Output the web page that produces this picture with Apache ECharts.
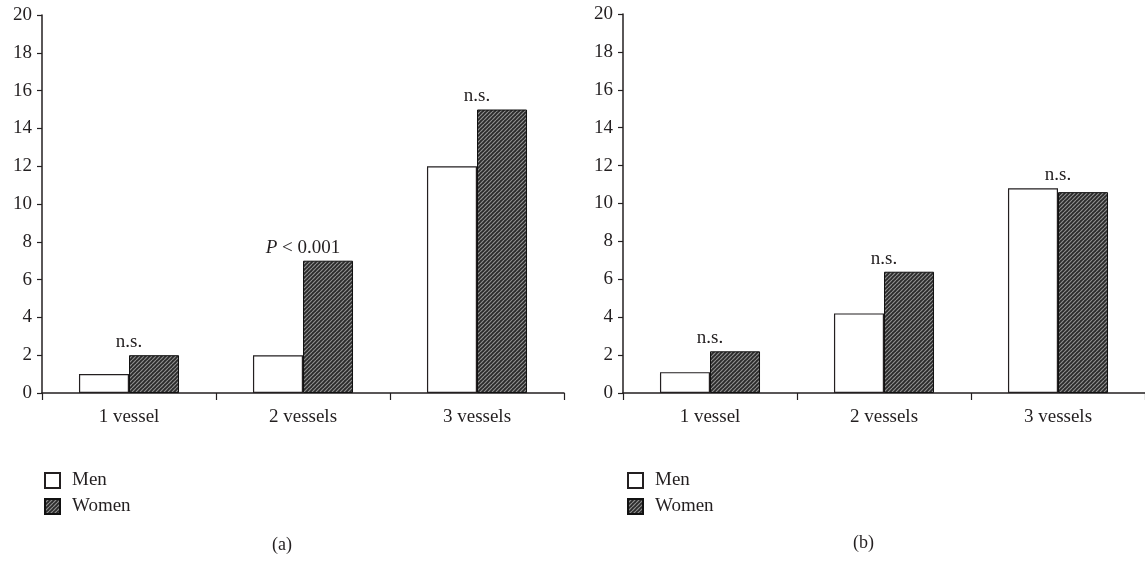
<!DOCTYPE html>
<html>
<head>
<meta charset="utf-8">
<script src="https://cdn.jsdelivr.net/npm/echarts@6/dist/echarts.min.js"></script>
<style>
html,body{margin:0;padding:0;background:#fff;}
#c{width:1145px;height:562px;}
</style>
</head>
<body>
<div id="c"></div>
<script>
// ---- data ----
const categories = ['1 vessel', '2 vessels', '3 vessels'];
const yTicks = [0, 2, 4, 6, 8, 10, 12, 14, 16, 18, 20];
const menA = [1, 2, 12];
const womenA = [2, 7, 15];
const menB = [1.1, 4.2, 10.8];
const womenB = [2.2, 6.4, 10.6];
const notesA = ['n.s.', '{i|P} < 0.001', 'n.s.'];
const notesB = ['n.s.', 'n.s.', 'n.s.'];
const seriesNames = ['Men', 'Women'];
const captions = ['(a)', '(b)'];

const FONT = '"Liberation Serif", "DejaVu Serif", serif';
const INK = '#231f20';
const FS = 19;

function makePattern() {
  const s = 4;
  const cv = document.createElement('canvas');
  cv.width = s; cv.height = s;
  const g = cv.getContext('2d');
  g.fillStyle = '#2a2a2a';
  g.fillRect(0, 0, s, s);
  g.strokeStyle = '#8f8f8f';
  g.lineWidth = 1.2;
  for (const k of [-s, 0, s]) {
    g.beginPath();
    g.moveTo(k, s);
    g.lineTo(k + s, 0);
    g.stroke();
  }
  return { image: cv, repeat: 'repeat' };
}
const hatch = makePattern();

const grids = [
  { left: 42, top: 15, width: 522, height: 378 },
  { left: 623, top: 14, width: 522, height: 379 }
];

function xAx(i) {
  return {
    type: 'category', gridIndex: i, data: categories,
    axisLine: { lineStyle: { color: INK, width: 1.5 } },
    axisTick: { show: true, length: 7, lineStyle: { color: INK, width: 1.2 } },
    axisLabel: { color: INK, fontFamily: FONT, fontSize: FS, margin: 15 }
  };
}
function yAx(i) {
  return {
    type: 'value', gridIndex: i, min: yTicks[0], max: yTicks[yTicks.length - 1],
    interval: yTicks[1] - yTicks[0],
    axisLine: { show: true, lineStyle: { color: INK, width: 1.5 } },
    axisTick: { show: true, length: 5, lineStyle: { color: INK, width: 1.2 } },
    axisLabel: { color: INK, fontFamily: FONT, fontSize: FS, margin: 10 },
    splitLine: { show: false }
  };
}

function barSeries(name, data, idx, isWomen) {
  return {
    name: name, type: 'bar', xAxisIndex: idx, yAxisIndex: idx, data: data,
    barGap: '0%', barCategoryGap: '42.5%',
    itemStyle: isWomen
      ? { color: hatch, borderColor: '#111', borderWidth: 1 }
      : { color: '#ffffff', borderColor: INK, borderWidth: 1.2 },
    silent: true, animation: false
  };
}
function noteSeries(men, women, notes, idx) {
  return {
    type: 'scatter', xAxisIndex: idx, yAxisIndex: idx, symbolSize: 1,
    itemStyle: { color: 'rgba(0,0,0,0)' },
    data: men.map((m, k) => Math.max(m, women[k])),
    label: {
      show: true, position: 'top', distance: 3,
      formatter: p => notes[p.dataIndex],
      color: INK, opacity: 1, fontFamily: FONT, fontSize: FS, textBorderWidth: 0,
      rich: { i: { fontStyle: 'italic', fontFamily: FONT, fontSize: FS, color: INK } }
    },
    labelLayout: { hideOverlap: false },
    silent: true, animation: false
  };
}

function legendAt(left) {
  return {
    data: seriesNames, orient: 'vertical', left: left, top: 471, padding: 0,
    itemWidth: 15, itemHeight: 15, itemGap: 7,
    icon: 'rect',
    textStyle: { color: INK, fontFamily: FONT, fontSize: FS, padding: [0, 0, 0, 7] }, selectedMode: false
  };
}

const chart = echarts.init(document.getElementById('c'));
chart.setOption({
  backgroundColor: '#fff',
  animation: false,
  grid: grids,
  xAxis: [xAx(0), xAx(1)],
  yAxis: [yAx(0), yAx(1)],
  legend: [legendAt(44), legendAt(627)],
  graphic: [
    { type: 'text', left: 272, top: 536, style: { text: captions[0], fill: INK, font: '18px ' + FONT } },
    { type: 'text', left: 853, top: 534, style: { text: captions[1], fill: INK, font: '18px ' + FONT } }
  ],
  series: [
    barSeries(seriesNames[0], menA, 0, false),
    barSeries(seriesNames[1], womenA, 0, true),
    noteSeries(menA, womenA, notesA, 0),
    barSeries(seriesNames[0], menB, 1, false),
    barSeries(seriesNames[1], womenB, 1, true),
    noteSeries(menB, womenB, notesB, 1)
  ]
});
</script>
</body>
</html>
